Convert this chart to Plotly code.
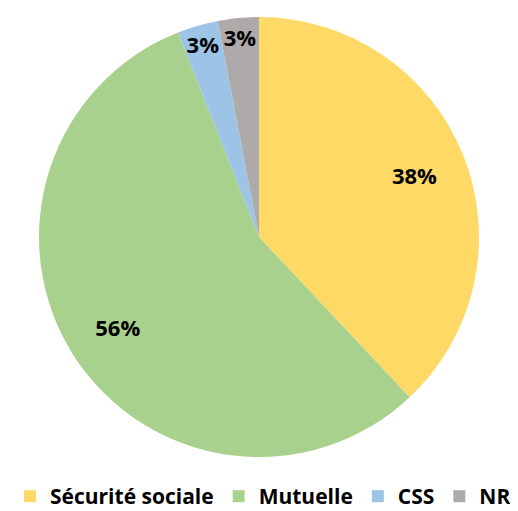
import plotly.graph_objects as go

labels = ["Sécurité sociale", "Mutuelle", "CSS", "NR"]
values = [38, 56, 3, 3]
colors = ["#FFD966", "#A9D18E", "#9DC3E6", "#AEAAAA"]

W, H = 510, 503
cx, cy, R = 251, 229, 220
dom = dict(x=[(cx - R) / W, (cx + R) / W], y=[1 - (cy + R) / H, 1 - (cy - R) / H])
font_fam = "'Open Sans', Lato, sans-serif"

# Coloured pie (no text)
fig = go.Figure(go.Pie(
    labels=labels,
    values=values,
    sort=False,
    direction="clockwise",
    rotation=0,
    marker=dict(colors=colors, line=dict(width=0)),
    textinfo="none",
    domain=dom,
    hoverinfo="label+percent",
))

# Transparent ring on top to place the percentage labels near the outer edge
fig.add_trace(go.Pie(
    labels=labels,
    values=values,
    sort=False,
    direction="clockwise",
    rotation=0,
    hole=0.52,
    marker=dict(colors=["rgba(0,0,0,0)"] * len(values), line=dict(width=0)),
    texttemplate="%{percent:.0%}",
    textposition="inside",
    insidetextorientation="horizontal",
    textfont=dict(family=font_fam, size=22, color="black", weight="bold"),
    domain=dom,
    showlegend=False,
    hoverinfo="skip",
))

fig.update_layout(
    width=W, height=H,
    margin=dict(l=0, r=0, t=0, b=0, autoexpand=False),
    paper_bgcolor="white",
    plot_bgcolor="white",
    uniformtext=dict(minsize=22, mode="show"),
    showlegend=True,
    legend=dict(
        orientation="h",
        x=0.5, xanchor="center",
        y=-0.012, yanchor="bottom",
        font=dict(family=font_fam, size=21, color="black", weight="bold"),
        tracegroupgap=0,
    ),
)

fig.write_html("out.html")
